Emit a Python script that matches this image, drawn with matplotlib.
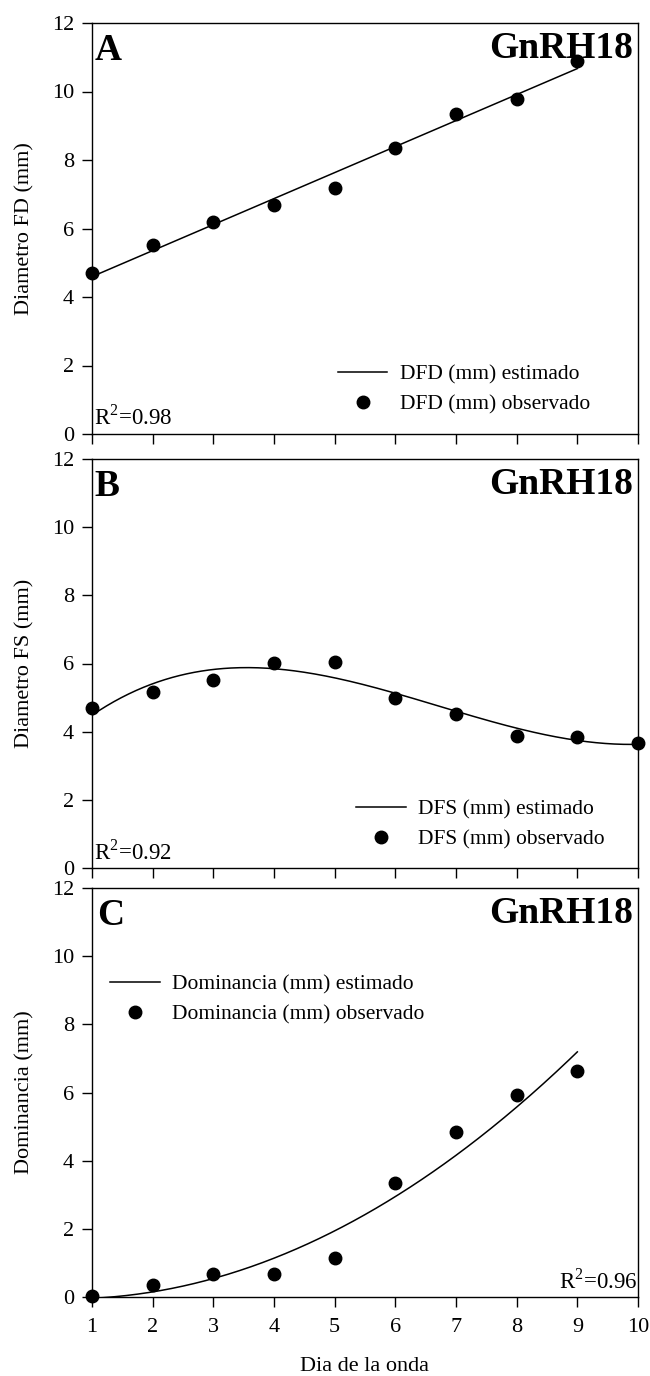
import numpy as np
import matplotlib
matplotlib.use("Agg")
import matplotlib.pyplot as plt

plt.rcParams['font.family'] = ['Liberation Serif', 'DejaVu Serif']
plt.rcParams['mathtext.fontset'] = 'custom'
plt.rcParams['mathtext.rm'] = 'Liberation Serif'

# ---- data ----
days = [1, 2, 3, 4, 5, 6, 7, 8, 9, 10]
x_ticks = [1, 2, 3, 4, 5, 6, 7, 8, 9, 10]
y_ticks = [0, 2, 4, 6, 8, 10, 12]

dfd_days = [1, 2, 3, 4, 5, 6, 7, 8, 9]
dfd_obs = [4.69, 5.53, 6.20, 6.69, 7.19, 8.36, 9.35, 9.78, 10.90]

dfs_days = [1, 2, 3, 4, 5, 6, 7, 8, 9, 10]
dfs_obs = [4.68, 5.17, 5.51, 6.02, 6.05, 5.00, 4.52, 3.88, 3.85, 3.66]

dom_days = [1, 2, 3, 4, 5, 6, 7, 8, 9]
dom_obs = [0.02, 0.34, 0.67, 0.67, 1.15, 3.35, 4.85, 5.92, 6.63]

panel_letters = ['A', 'B', 'C']
group_label = 'GnRH18'
ylabels = ['Diametro FD (mm)', 'Diametro FS (mm)', 'Dominancia (mm)']
legend_est = ['DFD (mm) estimado', 'DFS (mm) estimado', 'Dominancia (mm) estimado']
legend_obs = ['DFD (mm) observado', 'DFS (mm) observado', 'Dominancia (mm) observado']
r2_text = [r'R$^{2}$=0.98', r'R$^{2}$=0.92', r'R$^{2}$=0.96']
fit_degree = [1, 3, 2]
xlabel = 'Dia de la onda'

series_x = [dfd_days, dfs_days, dom_days]
series_y = [dfd_obs, dfs_obs, dom_obs]

# ---- layout ----
W, H = 650, 1376
fig = plt.figure(figsize=(W / 100, H / 100), dpi=100)

left = 92 / W
width = (638 - 92) / W
panels_px = [(23, 434), (459, 868), (888, 1297)]

leg_anchor = [(0.4505, 0.1075), (0.4835, 0.1056), (0.033, 0.7266)]
r2_pos = [(0.004, 0.022, 'left'), (0.004, 0.02, 'left'), (0.998, 0.022, 'right')]
letter_x = [0.004, 0.004, 0.01]

TICK_FS = 16
LAB_FS = 16
LEG_FS = 15.5
BIG_FS = 27

for i, (top, bot) in enumerate(panels_px):
    ax = fig.add_axes([left, 1 - bot / H, width, (bot - top) / H])
    xs = np.array(series_x[i], dtype=float)
    ys = np.array(series_y[i], dtype=float)
    coef = np.polyfit(xs, ys, fit_degree[i])
    xf = np.linspace(xs.min(), xs.max(), 300)
    yf = np.polyval(coef, xf)
    ax.plot(xf, yf, color='black', lw=1.1, label=legend_est[i])
    ax.plot(xs, ys, 'o', color='black', ms=9, clip_on=False, zorder=5,
            label=legend_obs[i])

    ax.set_xlim(1, 10)
    ax.set_ylim(0, 12)
    ax.set_xticks(x_ticks)
    ax.set_yticks(y_ticks)
    ax.tick_params(direction='out', length=7, width=1, labelsize=TICK_FS, pad=6)
    ax.tick_params(axis='x', pad=8)
    if i < 2:
        ax.tick_params(axis='x', labelbottom=False)
    for s in ax.spines.values():
        s.set_linewidth(1.0)
        s.set_color('black')

    ax.set_ylabel(ylabels[i], fontsize=LAB_FS)
    ax.yaxis.set_label_coords(-0.105, 0.5)

    ax.text(letter_x[i], 0.91, panel_letters[i], transform=ax.transAxes,
            fontsize=BIG_FS, fontweight='bold', ha='left', va='baseline')
    ax.text(0.99, 0.915, group_label, transform=ax.transAxes,
            fontsize=BIG_FS, fontweight='bold', ha='right', va='baseline')

    rx, ry, rha = r2_pos[i]
    ax.text(rx, ry, r2_text[i], transform=ax.transAxes, fontsize=16.5,
            ha=rha, va='baseline')

    ax.legend(loc='center left', bbox_to_anchor=leg_anchor[i], frameon=False,
              fontsize=LEG_FS, borderpad=0, borderaxespad=0,
              handlelength=2.3, handletextpad=0.6, labelspacing=0.45,
              numpoints=1)

    if i == 2:
        ax.set_xlabel(xlabel, fontsize=LAB_FS)
        ax.xaxis.set_label_coords(0.5, -0.147)

fig.savefig('out.png', dpi=100)
